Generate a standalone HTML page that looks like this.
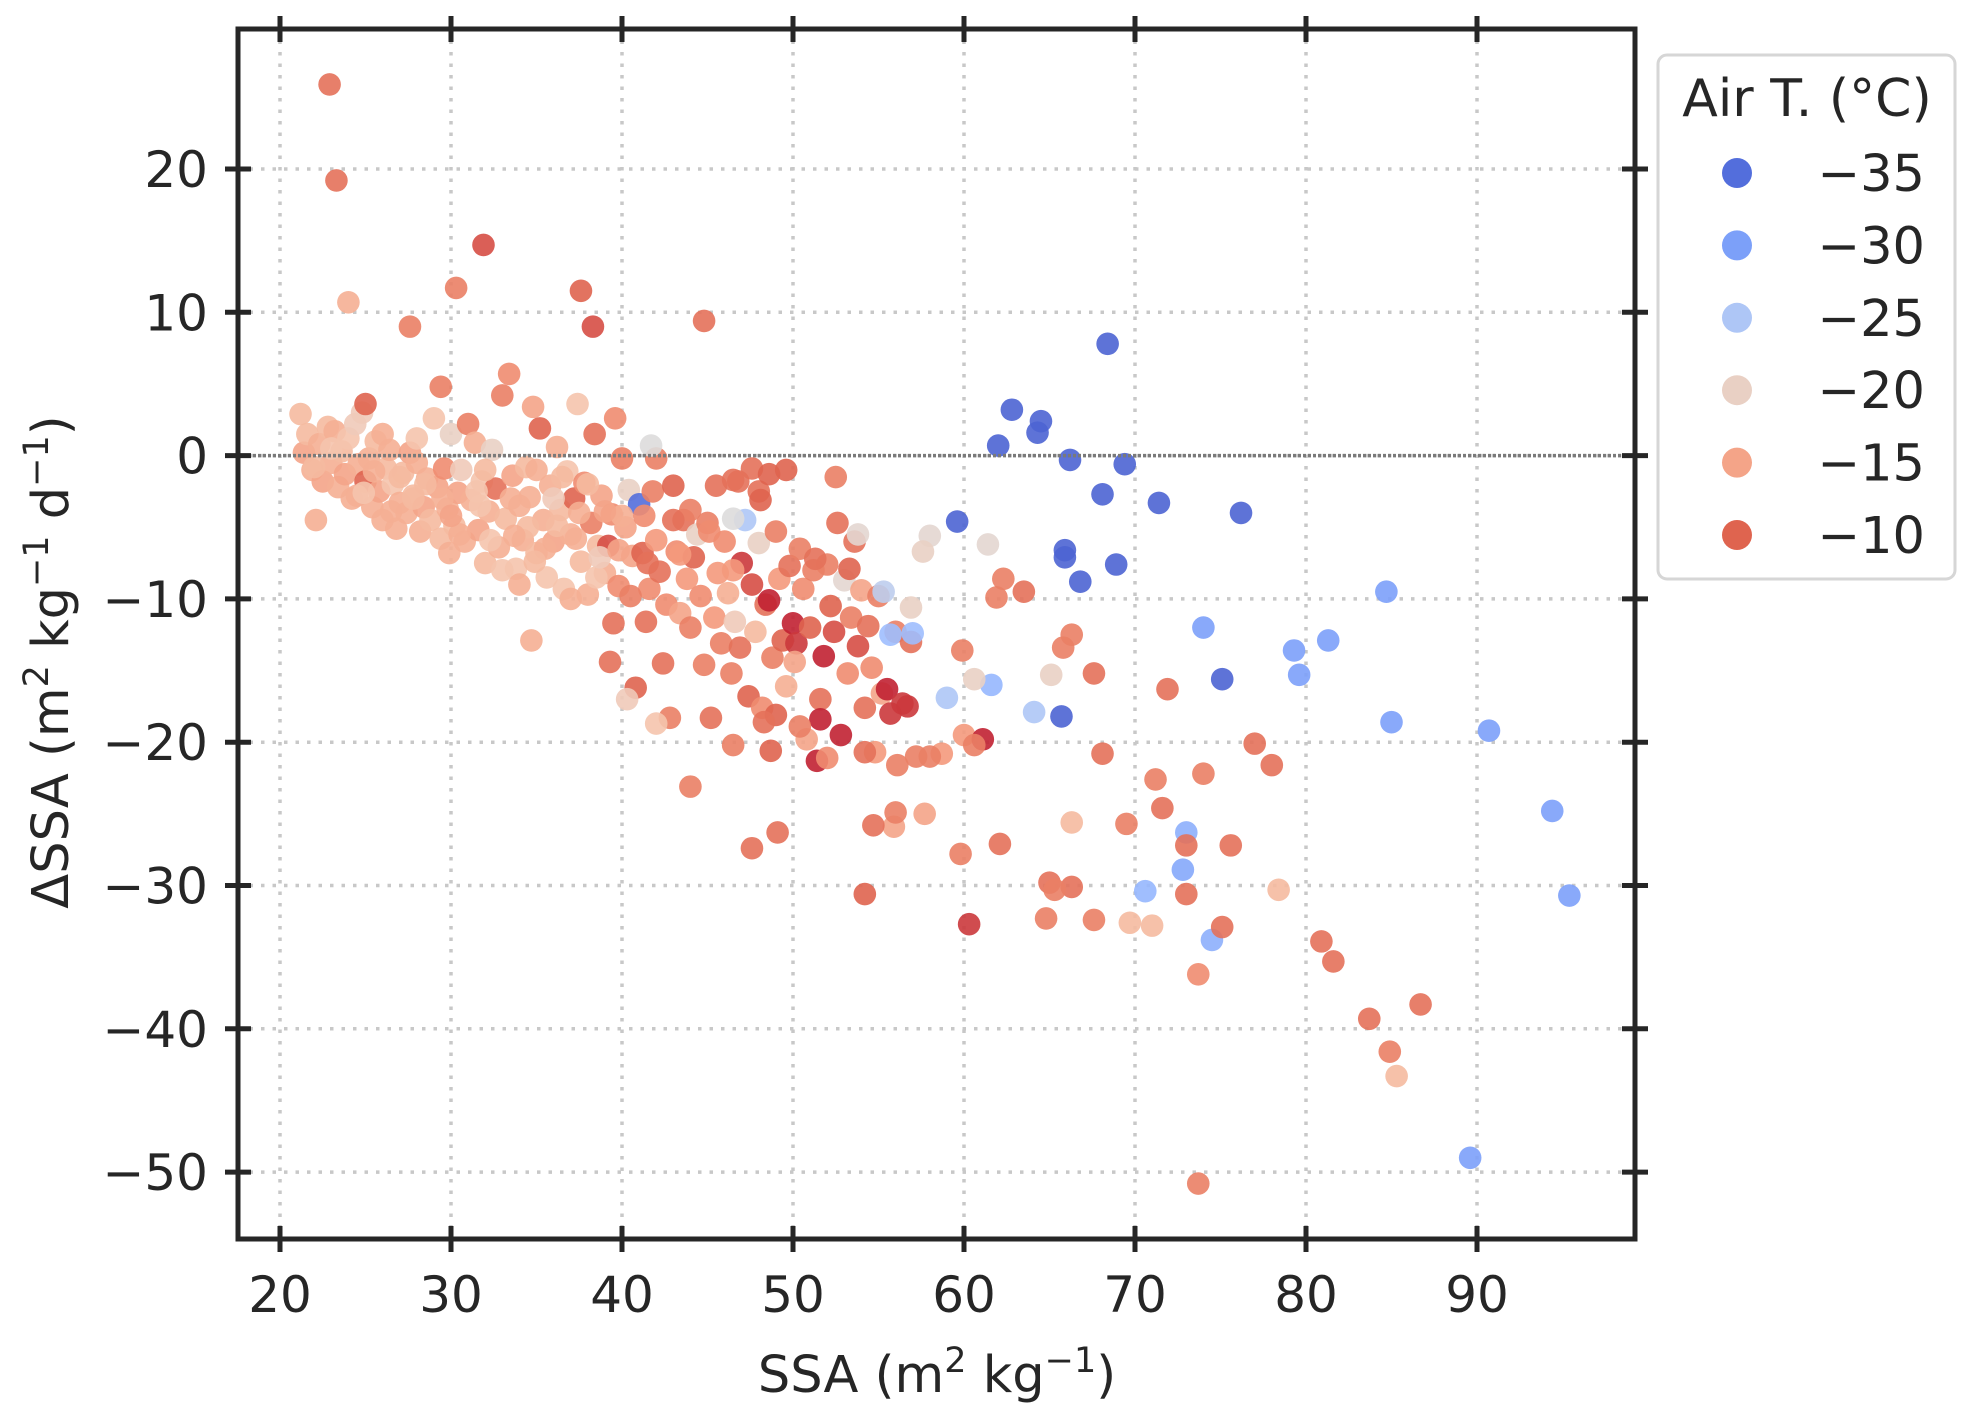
<!DOCTYPE html>
<html><head><meta charset="utf-8"><style>
html,body{margin:0;padding:0;background:#fff;}
svg{display:block;font-family:"DejaVu Sans","Liberation Sans",sans-serif;}
</style></head><body>
<svg id="chart" width="1978" height="1421" viewBox="0 0 1978 1421" xmlns="http://www.w3.org/2000/svg">
<rect x="0" y="0" width="1978" height="1421" fill="#fff"/>
<g id="grid"></g>
<g id="points"></g>
<g id="axes"></g>
<text x="937" y="1392" font-size="51" fill="#262626" text-anchor="middle">SSA (m<tspan font-size="35" dy="-20">2</tspan><tspan dy="20"> kg</tspan><tspan font-size="35" dy="-20">−1</tspan><tspan dy="20">)</tspan></text>
<text transform="translate(68,662) rotate(-90)" font-size="51" fill="#262626" text-anchor="middle">ΔSSA (m<tspan font-size="35" dy="-20">2</tspan><tspan dy="20"> kg</tspan><tspan font-size="35" dy="-20">−1</tspan><tspan dy="20"> d</tspan><tspan font-size="35" dy="-20">−1</tspan><tspan dy="20">)</tspan></text>
<g>
<rect x="1658" y="55" width="297" height="524" rx="9" fill="#fff" stroke="#d6d6d6" stroke-width="3"/>
<text x="1807" y="116" font-size="52" fill="#262626" text-anchor="middle">Air T. (°C)</text>
<g id="legend-entries"></g>
</g>
</svg>
<script>
const xTicks = [20,30,40,50,60,70,80,90];
const yTicks = [20,10,0,-10,-20,-30,-40,-50];
const legendTemps = [-35,-30,-25,-20,-15,-10];
const legendLabels = ["−35","−30","−25","−20","−15","−10"];

const ssa = [
21.2,21.4,21.6,21.9,22.1,22.3,22.5,22.8,23.0,23.2,
23.4,23.6,23.8,24.0,24.2,24.4,24.6,24.8,25.0,25.0,
25.2,25.4,25.6,25.8,26.0,26.2,26.4,26.6,26.8,27.0,
27.2,27.4,27.6,27.8,28.0,28.2,28.4,28.6,28.8,29.0,
29.2,29.4,29.6,29.8,30.0,30.2,30.4,30.6,30.8,31.0,
31.2,31.4,31.6,31.8,32.0,32.2,32.4,32.6,32.8,33.0,
33.2,33.4,33.6,33.8,34.0,34.2,34.4,34.6,34.8,35.0,
35.2,35.4,35.6,35.8,36.0,36.2,36.4,36.6,36.8,37.0,
37.2,37.4,37.6,37.8,38.0,38.2,38.4,38.6,38.8,39.0,
39.2,39.4,39.6,39.8,40.0,40.2,40.4,40.6,40.8,41.0,
39.5,39.3,41.2,41.4,41.6,41.8,42.0,42.2,42.4,42.6,
42.8,43.0,43.2,43.4,43.6,43.8,44.0,44.2,44.4,44.6,
44.8,45.0,45.2,45.4,45.6,45.8,46.0,46.2,46.4,46.6,
46.8,46.9,47.0,47.2,47.4,47.6,47.8,48.0,48.2,48.4,
48.6,48.8,49.0,49.2,49.4,49.6,49.8,50.0,50.2,50.4,
50.6,50.8,51.0,51.2,51.4,51.6,51.8,52.0,52.2,52.4,
52.6,52.8,53.0,53.2,53.4,53.6,53.8,54.0,54.2,54.4,
54.6,54.8,55.0,55.2,55.5,55.7,56.0,56.4,56.7,56.9,
57.2,58.7,51.6,52.0,50.4,49.0,48.3,50.1,53.3,51.3,
30.5,31.5,33.5,34.5,35.5,36.5,37.5,38.5,33.0,36.0,
28.0,26.0,24.5,23.0,27.0,29.5,32.0,35.0,38.0,40.0,
42.0,44.0,43.0,45.5,48.0,41.5,46.5,40.5,37.0,34.0,
22.9,23.3,31.9,24.0,30.3,37.6,27.6,38.3,44.8,29.4,
68.4,62.8,64.5,64.3,62.0,66.2,69.4,68.1,71.4,76.2,
59.6,65.9,65.9,68.9,66.8,75.1,65.7,84.7,74.0,79.3,
81.3,79.6,85.0,90.7,94.4,95.4,89.6,72.8,73.0,74.5,
70.6,61.6,55.7,57.0,59.0,64.1,55.3,41.7,61.4,58.0,
57.6,56.9,60.6,65.1,53.8,46.5,40.3,42.0,66.3,69.7,
71.0,78.4,85.3,34.7,57.7,55.9,73.7,60.0,67.6,71.9,
77.0,78.0,68.1,71.2,74.0,71.6,69.5,73.0,75.6,65.0,
66.3,65.3,73.0,75.1,67.6,64.8,80.9,81.6,86.7,83.7,
84.9,73.7,60.3,54.2,47.6,49.1,54.7,56.0,59.8,62.1,
44.0,56.1,58.0,54.2,48.7,46.5,61.1,60.6,62.3,61.9,
63.5,59.9,65.8,66.3,52.5,47.6,49.6,48.6,46.5,48.1,
22.0,24.9,26.5,28.5,30.0,31.7,33.7,36.2,38.7,39.8,
25.5,27.8,29.9,32.3,34.9,37.3,39.0,41.3,43.4,45.1
];
const dssa = [
2.9,0.2,1.5,-1.0,-4.5,0.8,-1.8,2.0,-0.5,1.7,
-2.2,0.3,-1.3,1.2,-3.0,2.2,-0.6,3.0,3.6,-1.8,
-0.2,-3.6,1.0,-2.5,-4.5,-0.9,0.4,-2.0,-5.1,-3.3,
-1.2,-4.0,0.2,-2.8,1.2,-5.3,-3.6,-1.6,-4.5,2.6,
-2.2,-5.8,-0.9,-3.7,1.5,-4.9,-2.6,-1.0,-6.0,2.2,
-3.1,0.9,-5.2,-1.8,-7.5,-3.9,0.4,-2.3,-6.4,4.2,
-4.4,5.7,-1.4,-7.9,-3.5,-5.9,-0.8,-2.9,3.4,-6.8,
1.9,-4.5,-8.5,-2.1,-6.0,0.6,-3.8,-9.3,-1.1,-5.5,
-3.0,3.6,-7.4,-1.9,-9.7,-4.7,1.5,-6.3,-2.8,-8.2,
-6.3,-4.1,2.6,-9.1,-0.2,-5.0,-2.4,-7.0,-16.2,-3.4,
-11.7,-14.4,-6.8,-11.6,-9.3,-2.5,-5.9,-8.1,-14.5,-10.4,
-18.3,-2.1,-6.7,-11.0,-4.5,-8.6,-12.0,-7.1,-5.5,-9.8,
-14.6,-4.7,-18.3,-11.3,-8.2,-13.1,-6.0,-9.6,-15.2,-11.6,
-1.8,-13.4,-7.5,-4.5,-16.8,-9.0,-12.3,-6.1,-17.6,-10.4,
-10.1,-14.1,-5.3,-8.6,-12.9,-16.1,-7.7,-11.7,-13.1,-6.5,
-9.3,-19.8,-12.0,-8.0,-21.3,-17.0,-14.0,-7.6,-10.5,-12.3,
-4.7,-19.5,-8.7,-15.2,-11.3,-6.0,-13.3,-9.4,-17.6,-11.9,
-14.8,-20.7,-9.8,-16.6,-16.3,-18.0,-12.3,-17.3,-17.5,-13.0,
-21.0,-20.8,-18.4,-21.1,-18.9,-18.1,-18.6,-14.4,-7.9,-7.2,
-5.5,-2.5,-3.0,-5.0,-6.5,-1.5,-4.0,-8.5,-8.0,-3.0,
-0.5,1.5,-2.8,0.5,-1.5,-3.0,-1.0,-1.0,-2.0,-4.2,
-0.2,-3.8,-4.5,-2.1,-2.5,-7.5,-8.0,-9.8,-10.0,-9.0,
25.9,19.2,14.7,10.7,11.7,11.5,9.0,9.0,9.4,4.8,
7.8,3.2,2.4,1.6,0.7,-0.3,-0.6,-2.7,-3.3,-4.0,
-4.6,-6.6,-7.1,-7.6,-8.8,-15.6,-18.2,-9.5,-12.0,-13.6,
-12.9,-15.3,-18.6,-19.2,-24.8,-30.7,-49.0,-28.9,-26.3,-33.8,
-30.4,-16.0,-12.5,-12.4,-16.9,-17.9,-9.5,0.7,-6.2,-5.6,
-6.7,-10.6,-15.6,-15.3,-5.5,-4.4,-17.0,-18.7,-25.6,-32.6,
-32.8,-30.3,-43.3,-12.9,-25.0,-25.9,-36.2,-19.5,-15.2,-16.3,
-20.1,-21.6,-20.8,-22.6,-22.2,-24.6,-25.7,-27.2,-27.2,-29.8,
-30.1,-30.3,-30.6,-32.9,-32.4,-32.3,-33.9,-35.3,-38.3,-39.3,
-41.6,-50.8,-32.7,-30.6,-27.4,-26.3,-25.8,-24.9,-27.8,-27.1,
-23.1,-21.6,-21.0,-20.7,-20.6,-20.2,-19.8,-20.2,-8.6,-9.9,
-9.5,-13.6,-13.4,-12.5,-1.5,-0.9,-1.0,-1.3,-1.7,-3.1,
-0.8,-2.6,-3.9,-2.0,-4.2,-3.5,-5.6,-4.9,-7.1,-6.6,
-1.1,-3.0,-6.8,-5.9,-7.4,-5.8,-3.9,-4.2,-6.9,-5.3
];
const airT = [
-17,-15,-17,-16,-16,-16,-15,-17,-16,-16,
-16,-17,-15,-18,-16,-19,-16,-19,-10,-10,
-16,-16,-17,-15,-16,-17,-16,-18,-16,-16,
-17,-16,-15,-17,-18,-16,-15,-16,-17,-18,
-15,-17,-13,-16,-20,-17,-15,-19,-16,-12,
-16,-16,-15,-18,-17,-16,-20,-11,-16,-12,
-17,-13,-15,-18,-16,-16,-17,-16,-15,-17,
-10,-16,-18,-16,-15,-16,-17,-18,-18,-16,
-10,-18,-17,-13,-16,-12,-11,-17,-15,-16,
-9,-13,-13,-13,-12,-15,-20,-15,-10,-35,
-11,-11,-10,-11,-13,-12,-14,-11,-11,-13,
-12,-10,-13,-15,-11,-14,-12,-10,-20,-13,
-12,-12,-11,-14,-14,-12,-13,-16,-12,-19,
-11,-11,-8,-25,-10,-9,-17,-20,-13,-11,
-7,-12,-12,-14,-10,-16,-11,-7,-8,-12,
-13,-15,-10,-12,-7,-11,-7,-12,-10,-9,
-11,-7,-21,-13,-12,-11,-9,-15,-11,-11,
-13,-14,-12,-15,-7,-8,-12,-8,-8,-11,
-12,-14,-7,-13,-12,-10,-11,-15,-10,-11,
-16,-18,-16,-17,-16,-17,-16,-18,-18,-19,
-16,-16,-16,-18,-17,-16,-17,-16,-17,-16,
-12,-12,-11,-11,-11,-11,-14,-12,-16,-16,
-11,-11,-9,-16,-12,-10,-12,-9,-11,-12,
-36,-36,-36,-36,-36,-36,-36,-36,-36,-36,
-36,-36,-36,-36,-36,-36,-36,-30,-30,-30,
-30,-30,-30,-30,-30,-30,-30,-29,-28,-28,
-27,-27,-26,-26,-25,-25,-24,-22,-21,-21,
-20,-20,-20,-20,-21,-22,-19,-18,-17,-17,
-17,-17,-17,-16,-15,-15,-13,-14,-11,-11,
-11,-11,-11,-12,-12,-11,-12,-11,-11,-11,
-11,-12,-11,-11,-12,-12,-11,-11,-11,-11,
-12,-12,-8,-10,-11,-11,-11,-12,-12,-11,
-12,-12,-12,-11,-10,-12,-7,-12,-12,-12,
-11,-12,-12,-12,-12,-11,-10,-10,-11,-10,
-17,-18,-16,-17,-15,-18,-16,-17,-19,-15,
-16,-17,-16,-18,-17,-16,-15,-13,-14,-13
];

const NS = "http://www.w3.org/2000/svg";
const L = 238, R = 1635, T = 29, B = 1239;
function xPos(v){ return 280 + (v - 20) * 17.1; }
function yPos(v){ return 455.6 - v * 14.33; }

const cmapStops = [[0,[59,76,192]],[0.125,[89,119,227]],[0.25,[123,159,249]],[0.375,[158,190,255]],[0.5,[221,220,220]],[0.625,[245,196,172]],[0.75,[244,152,122]],[0.875,[222,97,77]],[1,[180,4,38]]];
function color(t){
  let f = (t + 38.25) / 32.5; f = Math.max(0, Math.min(1, f));
  for (let i = 1; i < cmapStops.length; i++) {
    if (f <= cmapStops[i][0]) {
      const a = cmapStops[i-1], b = cmapStops[i];
      const u = (f - a[0]) / (b[0] - a[0]);
      const c = a[1].map((v, k) => Math.round(v + (b[1][k] - v) * u));
      return "rgb(" + c.join(",") + ")";
    }
  }
  return "rgb(180,4,38)";
}
function mk(tag, attrs, parent){
  const e = document.createElementNS(NS, tag);
  for (const k in attrs) e.setAttribute(k, attrs[k]);
  parent.appendChild(e);
  return e;
}

const grid = document.getElementById("grid");
xTicks.forEach(v => {
  const g = mk("line", {x1: xPos(v), x2: xPos(v), y1: T, y2: B, stroke: "#c8c8c8", "stroke-width": 3.5, "stroke-dasharray": "3.5,8"}, grid);
  
  
});
yTicks.forEach(v => {
  const g = mk("line", {x1: L, x2: R, y1: yPos(v), y2: yPos(v), stroke: "#c8c8c8", "stroke-width": 3.5, "stroke-dasharray": "3.5,8"}, grid);
  
  
});

const pts = document.getElementById("points");
for (let i = 0; i < ssa.length; i++) {
  const c = mk("circle", {cx: xPos(ssa[i]), cy: yPos(dssa[i]), r: 11.3, fill: color(airT[i]), "fill-opacity": 0.9}, pts);
  
  
}
const zl = mk("line", {x1: L, x2: R, y1: yPos(0), y2: yPos(0), stroke: "#7a7a7a", "stroke-width": 3.5, "stroke-dasharray": "3,2"}, pts);



const axes = document.getElementById("axes");
const fr = mk("rect", {x: L, y: T, width: R - L, height: B - T, fill: "none", stroke: "#262626", "stroke-width": 5}, axes);


xTicks.forEach((v, i) => {
  [B, T].forEach(yy => {
    const t = mk("line", {x1: xPos(v), x2: xPos(v), y1: yy - 13, y2: yy + 13, stroke: "#262626", "stroke-width": 5}, axes);
    
    
  });
  const lb = mk("text", {x: xPos(v), y: 1312, "font-size": 50, fill: "#262626", "text-anchor": "middle"}, axes);
  lb.textContent = String(v);
  
  
});
yTicks.forEach(v => {
  [L, R].forEach(xx => {
    const t = mk("line", {x1: xx - 13, x2: xx + 13, y1: yPos(v), y2: yPos(v), stroke: "#262626", "stroke-width": 5}, axes);
    
    
  });
  const lb = mk("text", {x: 208, y: yPos(v) + 18, "font-size": 50, fill: "#262626", "text-anchor": "end"}, axes);
  lb.textContent = v < 0 ? "−" + Math.abs(v) : String(v);
  
  
});

const le = document.getElementById("legend-entries");
legendTemps.forEach((t, i) => {
  const cy = 173 + i * 72.4;
  const c = mk("circle", {cx: 1737, cy: cy, r: 15, fill: color(t)}, le);
  
  
  const tx = mk("text", {x: 1925, y: cy + 18, "font-size": 51, fill: "#262626", "text-anchor": "end"}, le);
  tx.textContent = legendLabels[i];
  
  
});
</script>
</body></html>
